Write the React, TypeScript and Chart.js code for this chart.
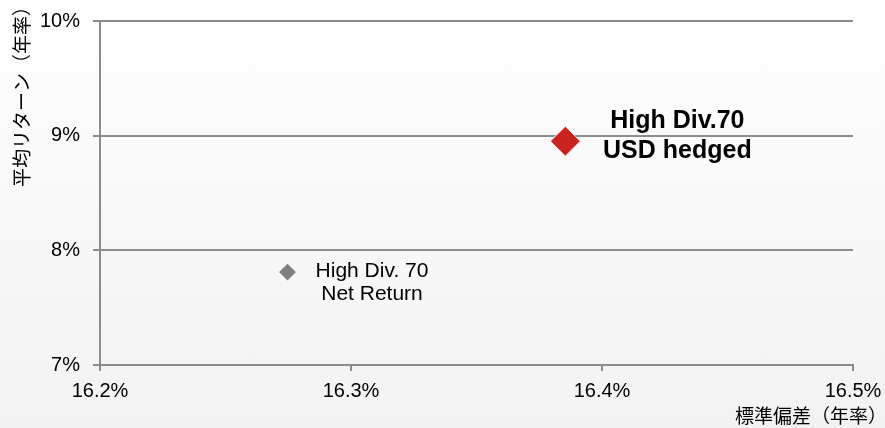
import { useEffect, useRef } from "react";
import { Chart, registerables } from "chart.js";
Chart.register(...registerables);

// ---- data ----
const seriesNames = ["High Div. 70 Net Return", "High Div.70 USD hedged"];
const stdDevs = [16.2747, 16.3854]; // x: 標準偏差 (%)
const avgReturns = [7.81, 8.952]; // y: 平均リターン (%)
const pointLabels = [
  ["High Div. 70", "Net Return"],
  ["High Div.70", "USD hedged"],
];
const xTickValues = [16.2, 16.3, 16.4, 16.5];
const yTickValues = [7, 8, 9, 10];
const xTitle = "標準偏差（年率）";
const yTitle = "平均リターン（年率）";

const SANS = "'Liberation Sans', Arial, sans-serif";
const CJK = "'Noto Sans CJK JP', sans-serif";
const AXIS = "#8c8c8c";

const annotPlugin = {
  id: "annot",
  afterDatasetsDraw(chart: any) {
    const ctx = chart.ctx;
    const xs = chart.scales.x;
    const ys = chart.scales.y;
    ctx.save();
    ctx.fillStyle = "#000";
    ctx.textAlign = "center";
    ctx.textBaseline = "alphabetic";
    // label for point 0 (regular)
    {
      const px = xs.getPixelForValue(stdDevs[0]);
      const py = ys.getPixelForValue(avgReturns[0]);
      ctx.font = `21px ${SANS}`;
      ctx.fillText(pointLabels[0][0], px + 84.5, py + 5);
      ctx.fillText(pointLabels[0][1], px + 84.5, py + 28);
    }
    // label for point 1 (bold)
    {
      const px = xs.getPixelForValue(stdDevs[1]);
      const py = ys.getPixelForValue(avgReturns[1]);
      ctx.font = `bold 25px ${SANS}`;
      ctx.fillText(pointLabels[1][0], px + 112, py - 13);
      ctx.fillText(pointLabels[1][1], px + 112, py + 17);
    }
    // axis titles
    ctx.font = `19px ${CJK}`;
    ctx.textAlign = "left";
    ctx.textBaseline = "middle";
    ctx.fillText(xTitle, 735, 416);
    ctx.translate(22, 187);
    ctx.rotate(-Math.PI / 2);
    ctx.fillText(yTitle, 0, 0);
    ctx.restore();
  },
};

export default function App() {
  const ref = useRef<HTMLCanvasElement | null>(null);
  useEffect(() => {
    if (!ref.current) return;
    const chart = new Chart(ref.current, {
      type: "scatter",
      data: {
        datasets: [
          {
            label: seriesNames[0],
            data: [{ x: stdDevs[0], y: avgReturns[0] }],
            pointStyle: "rectRot",
            pointRadius: 9,
            backgroundColor: "#808080",
            borderColor: "#ffffff",
            borderWidth: 1,
          },
          {
            label: seriesNames[1],
            data: [{ x: stdDevs[1], y: avgReturns[1] }],
            pointStyle: "rectRot",
            pointRadius: 15,
            backgroundColor: "#c9221f",
            borderColor: "#ffffff",
            borderWidth: 1,
          },
        ],
      },
      options: {
        responsive: false,
        animation: false,
        layout: { padding: { top: 21, right: 32, left: 0, bottom: 0 } },
        plugins: { legend: { display: false }, tooltip: { enabled: false } },
        scales: {
          x: {
            type: "linear",
            min: xTickValues[0],
            max: xTickValues[xTickValues.length - 1],
            afterBuildTicks: (s: any) => {
              s.ticks = xTickValues.map((v) => ({ value: v }));
            },
            afterFit: (s: any) => {
              s.height = 63;
              s.paddingLeft = 0;
              s.paddingRight = 0;
            },
            ticks: {
              callback: (v: any) => Number(v).toFixed(1) + "%",
              font: { size: 20, family: SANS },
              color: "#000",
              padding: 8,
              maxRotation: 0,
            },
            grid: {
              drawOnChartArea: false,
              drawTicks: true,
              tickLength: 6,
              color: AXIS,
              lineWidth: 2,
            },
            border: { color: AXIS, width: 2 },
          },
          y: {
            type: "linear",
            min: yTickValues[0],
            max: yTickValues[yTickValues.length - 1],
            afterBuildTicks: (s: any) => {
              s.ticks = yTickValues.map((v) => ({ value: v }));
            },
            afterFit: (s: any) => {
              s.width = 100;
              s.paddingTop = 0;
              s.paddingBottom = 0;
            },
            ticks: {
              callback: (v: any) => Number(v).toFixed(0) + "%",
              font: { size: 20, family: SANS },
              color: "#000",
              padding: 13,
            },
            grid: {
              drawTicks: true,
              tickLength: 7,
              color: AXIS,
              lineWidth: 2,
            },
            border: { color: AXIS, width: 2 },
          },
        },
      },
      plugins: [annotPlugin],
    } as any);
    return () => chart.destroy();
  }, []);
  return (
    <div
      style={{
        position: "fixed",
        left: 0,
        top: 0,
        width: 885,
        height: 428,
        background: "linear-gradient(#ffffff, #f2f2f2)",
      }}
    >
      <canvas ref={ref} width={885} height={428} style={{ display: "block" }} />
    </div>
  );
}
